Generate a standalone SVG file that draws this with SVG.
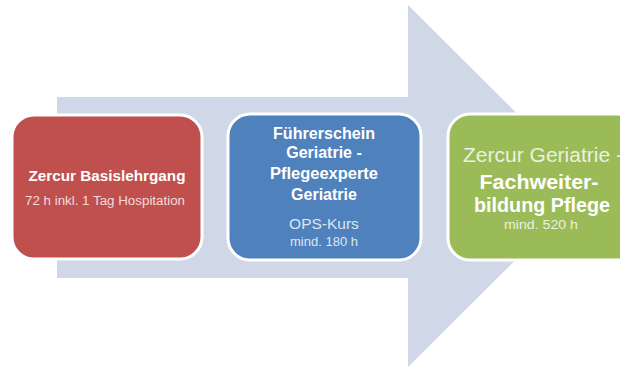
<svg xmlns="http://www.w3.org/2000/svg" width="620" height="367" viewBox="0 0 620 367">
<style>
.box{stroke:#ffffff;stroke-width:3}
.t{font-family:"Liberation Sans",Arial,sans-serif;text-anchor:middle}
.b{font-weight:bold;fill:#ffffff}
</style>
<rect width="620" height="367" fill="#ffffff"/>
<g id="arrow">
<polygon points="57,97 408,97 408,5 590,186 408,367 408,278 57,278" fill="#D0D8E8"/>
</g>
<g id="node1">
<rect class="box" x="12" y="115" width="190" height="144" rx="22" fill="#C0504D"/>
<text class="t b" x="107" y="181" font-size="15" textLength="157" lengthAdjust="spacingAndGlyphs">Zercur Basislehrgang</text>
<text class="t" x="105" y="205" font-size="12" fill="#F2DCDB" textLength="160" lengthAdjust="spacingAndGlyphs">72 h inkl. 1 Tag Hospitation</text>
</g>
<g id="node2">
<rect class="box" x="228" y="114" width="193" height="146" rx="22" fill="#4F81BD"/>
<text class="t b" x="324" y="139" font-size="16" textLength="102" lengthAdjust="spacingAndGlyphs">Führerschein</text>
<text class="t b" x="324" y="158" font-size="16">Geriatrie -</text>
<text class="t b" x="324" y="179" font-size="16" textLength="108" lengthAdjust="spacingAndGlyphs">Pflegeexperte</text>
<text class="t b" x="324" y="200" font-size="16">Geriatrie</text>
<text class="t" x="324" y="229" font-size="15.5" fill="#DCE6F2">OPS-Kurs</text>
<text class="t" x="324" y="246" font-size="12" fill="#DCE6F2" textLength="68" lengthAdjust="spacingAndGlyphs">mind. 180 h</text>
</g>
<g id="node3">
<rect class="box" x="448" y="114" width="200" height="146" rx="22" fill="#9BBB59"/>
<text class="t" x="463" y="162" font-size="20" fill="#EBF1DE" style="text-anchor:start" textLength="160" lengthAdjust="spacingAndGlyphs">Zercur Geriatrie -</text>
<text class="t b" x="539" y="189" font-size="20.5" textLength="119" lengthAdjust="spacingAndGlyphs">Fachweiter-</text>
<text class="t b" x="542" y="212" font-size="20.5" textLength="136" lengthAdjust="spacingAndGlyphs">bildung Pflege</text>
<text class="t" x="541" y="229" font-size="12" fill="#EBF1DE" textLength="74" lengthAdjust="spacingAndGlyphs">mind. 520 h</text>
</g>
<g id="connectors"></g>
</svg>
